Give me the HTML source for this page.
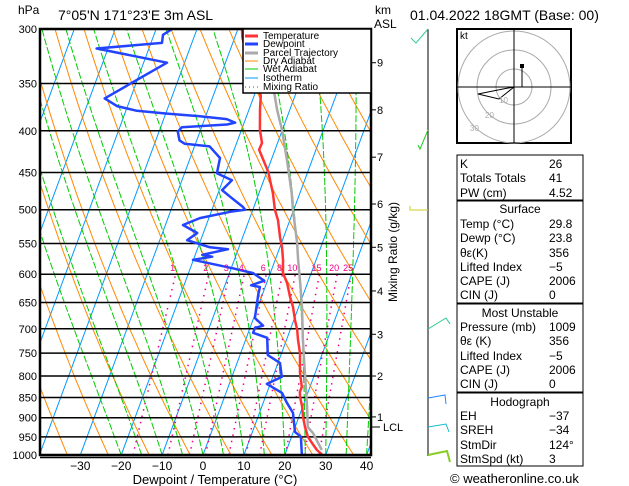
<!DOCTYPE html>
<html><head><meta charset="utf-8"><style>
html,body{margin:0;padding:0;background:#fff;}
svg{display:block;font-family:"Liberation Sans",sans-serif;}
</style></head><body>
<svg id="chart" width="629" height="486" viewBox="0 0 629 486" xmlns="http://www.w3.org/2000/svg">
<defs><clipPath id="plotclip"><rect x="40" y="29" width="331" height="426"/></clipPath></defs>
<rect width="629" height="486" fill="#fff"/>
<text x="18" y="14" font-size="12">hPa</text>
<text x="58" y="20" font-size="14">7°05'N  171°23'E  3m  ASL</text>
<text x="375" y="14" font-size="12">km</text>
<text x="374" y="28" font-size="12">ASL</text>
<text x="410" y="20" font-size="14">01.04.2022  18GMT  (Base: 00)</text>
<g id="bg" clip-path="url(#plotclip)"></g>
<g id="iso"></g>
<g id="series" clip-path="url(#plotclip)"></g>
<g id="axes"></g>
<g id="legend">
<rect x="243" y="29" width="128" height="64" fill="#fff" stroke="#000" stroke-width="1.5"/>
<line x1="245" y1="36" x2="258" y2="36" stroke="#f33" stroke-width="3"/>
<text x="263" y="39" font-size="10">Temperature</text>
<line x1="245" y1="44" x2="258" y2="44" stroke="#2244ff" stroke-width="3"/>
<text x="263" y="47" font-size="10">Dewpoint</text>
<line x1="245" y1="53" x2="258" y2="53" stroke="#aaa" stroke-width="3"/>
<text x="263" y="56" font-size="10">Parcel Trajectory</text>
<line x1="245" y1="61" x2="258" y2="61" stroke="#f80" stroke-width="1"/>
<text x="263" y="64" font-size="10">Dry Adiabat</text>
<line x1="245" y1="69" x2="258" y2="69" stroke="#0c0" stroke-width="1"/>
<text x="263" y="72" font-size="10">Wet Adiabat</text>
<line x1="245" y1="78" x2="258" y2="78" stroke="#09f" stroke-width="1"/>
<text x="263" y="81" font-size="10">Isotherm</text>
<line x1="245" y1="87" x2="258" y2="87" stroke="#e08" stroke-width="1" stroke-dasharray="1,3"/>
<text x="263" y="90" font-size="10">Mixing Ratio</text>
</g>
<g id="winds">
<line x1="428" y1="29" x2="428" y2="456" stroke="#000" stroke-width="1"/>
<polyline points="428,29 416,43 411,38" fill="none" stroke="#3c9"/>
<polyline points="428,130 420,149 418,145" fill="none" stroke="#2c2"/>
<polyline points="428,210 410,210 410,206" fill="none" stroke="#cc2"/>
<polyline points="428,329 446,318 450,324" fill="none" stroke="#2c8"/>
<polyline points="428,398 445,395 446,404" fill="none" stroke="#28f"/>
<polyline points="428,427 446,424 449,432" fill="none" stroke="#1bc"/>
<polyline points="428,455 447,451 450,462" fill="none" stroke="#8c2" stroke-width="2"/>
</g>
<g id="hodo">
<rect x="457" y="29" width="114" height="114" fill="#fff" stroke="#000" stroke-width="2"/>
<g fill="none" stroke="#aaa" stroke-width="1">
<circle cx="514" cy="87" r="18"/><circle cx="514" cy="87" r="37"/><circle cx="514" cy="87" r="56"/>
</g>
<line x1="457" y1="87" x2="571" y2="87" stroke="#000"/><line x1="514" y1="29" x2="514" y2="143" stroke="#000"/>
<text x="460" y="39" font-size="10">kt</text>
<polyline points="514,87 503,89 478,94 499,99 514,87" fill="none" stroke="#000"/>
<polyline points="514,87 522,87 522,66" fill="none" stroke="#000"/>
<rect x="520" y="64" width="4" height="4" fill="#000"/>
<text x="499" y="103" font-size="8" fill="#aaa">10</text>
<text x="485" y="118" font-size="8" fill="#aaa">20</text>
<text x="470" y="131" font-size="8" fill="#aaa">30</text>
</g>
<g id="table" font-size="12">
<rect x="457" y="155" width="126" height="45" fill="none" stroke="#000"/>
<rect x="457" y="201" width="126" height="102" fill="none" stroke="#000"/>
<rect x="457" y="304" width="126" height="88" fill="none" stroke="#000"/>
<rect x="457" y="393" width="126" height="73" fill="none" stroke="#000"/>
<g id="rows"></g>
</g>
<text x="450" y="483" font-size="13">© weatheronline.co.uk</text>
</svg>
<script>
// ---------- data ----------
const pressureTicks = [300,350,400,450,500,550,600,650,700,750,800,850,900,950,1000];
const xTicks = [-30,-20,-10,0,10,20,30,40];
const kmLabels = [1,2,3,4,5,6,7,8,9];
const kmPressures = [898,800,711,629,556,492,431,377,330];
const mixingRatios = [1,2,3,4,6,8,10,15,20,25];
const tempP = [1006,986,967,950,924,898,873,849,837,825,793,750,722,702,683,658,640,615,598,576,557,540,515,500,477,449,434,422,414,399,377,362,337,307,300];
const tempT = [30.0,27.4,25.6,24.0,22.4,21.0,19.9,18.5,18.0,18.0,16.3,14.5,12.8,11.7,10.3,8.6,7.0,5.0,3.1,1.9,0.6,-0.9,-2.9,-4.6,-6.6,-9.7,-12.0,-13.9,-13.8,-15.5,-17.3,-18.4,-23.3,-28.2,-29.0];
const parcelP = [986,940,924,873,793,722,658,615,576,549,500,477,434,399,377,362,352];
const parcelT = [28.6,24.9,23.1,21.1,17.5,14.0,10.8,8.2,5.6,3.8,-0.2,-2.0,-6.2,-10.1,-13.1,-15.0,-16.4];
const dewP = [1006,950,937,888,863,839,818,802,771,754,718,708,698,694,679,636,622,619,611,598,590,576,571,568,559,556,545,534,522,512,503,500,496,482,473,460,451,432,425,418,415,411,401,396,393,391,387,384,381,378,373,365,330,317,312,305,300];
const dewT = [24.4,22.3,20.4,18.2,15.8,13.7,9.2,12.2,10.5,6.8,5.1,1.2,1.2,3.0,0.3,-1.0,-1.3,-3.6,-0.8,-4.2,-9.6,-20.1,-15.7,-18.3,-12.5,-17.1,-23.3,-21.5,-25.7,-22.2,-15.4,-11.9,-12.7,-16.7,-19.3,-17.8,-22.1,-22.7,-24.5,-26.3,-32.6,-34.2,-35.4,-34.8,-24.0,-22.2,-24.6,-31.4,-39.7,-47.3,-52.6,-56.3,-44.3,-62.8,-47.3,-47.8,-46.1];

// ---------- axes functions ----------
const NS='http://www.w3.org/2000/svg';
const X0=203, PXD=4.09, SKEW=0.37, YB=455;
function Y(p){return 29+353.8*Math.log(p/300);}
function X(T,p){return X0+PXD*T+SKEW*(YB-Y(p));}
function mk(tag,attrs,parent){const e=document.createElementNS(NS,tag);for(const k in attrs)e.setAttribute(k,attrs[k]);parent.appendChild(e);return e;}
const bg=document.getElementById('bg'), iso=document.getElementById('iso'), series=document.getElementById('series'), axes=document.getElementById('axes');

for(let T=-120;T<=40;T+=10){
  const l=mk('line',{x1:X(T,1000),y1:Y(1000),x2:X(T,300),y2:Y(300),stroke:'#09f','stroke-width':1},bg);
  
  
}
for(let th=220;th<=460;th+=10){
  let pts=[];for(let p=1000;p>=300;p-=10){const T=th*Math.pow(p/1000,0.286)-273.15;pts.push(X(T,p).toFixed(1)+','+Y(p).toFixed(1));}
  const l=mk('polyline',{points:pts.join(' '),fill:'none',stroke:'#f80','stroke-width':1},bg);
  
  
}
function es(T){return 6.112*Math.exp(17.67*T/(T+243.5));}
for(let T0=-20;T0<=40;T0+=5){
  let T=T0+273.15,pts=[];
  for(let p=1000;p>=300;p-=5){
    pts.push(X(T-273.15,p).toFixed(1)+','+Y(p).toFixed(1));
    const e=es(T-273.15), rs=0.622*e/(p-e), Lv=2.5e6, Rd=287, cp=1004;
    const dTdp=(Rd*T+Lv*rs)/(p*(cp+Lv*Lv*rs*0.622/(Rd*T*T)));
    T-=dTdp*5;
  }
  const l=mk('polyline',{points:pts.join(' '),fill:'none',stroke:'#0c0','stroke-width':1,'stroke-dasharray':'7,2'},bg);
  
  
}
function tdw(w,p){const e=w*p/(622+w);const a=Math.log(e/6.112);return 243.5*a/(17.67-a);}
mixingRatios.forEach(w=>{
  const l=mk('line',{x1:X(tdw(w,1000),1000),y1:Y(1000),x2:X(tdw(w,600),600),y2:Y(600),stroke:'#e08','stroke-width':1.5,'stroke-dasharray':'1.5,5'},bg);
  
  
  const t=mk('text',{x:X(tdw(w,600),600)-3,y:Y(600)-3,'font-size':9,fill:'#e08','text-anchor':'middle'},axes);
  t.textContent=w;
  
  
});
pressureTicks.forEach(p=>{
  const l=mk('line',{x1:40,y1:Y(p),x2:371,y2:Y(p),stroke:'#000','stroke-width':1.5},iso);
  
  
  const t=mk('text',{x:37,y:Y(p)+4,'font-size':11,'text-anchor':'end'},axes);
  t.textContent=p;
  
  
});
function drawLine(P,T,color,w,name){
  const pts=P.map((p,i)=>X(T[i],p).toFixed(1)+','+Y(p).toFixed(1)).join(' ');
  const l=mk('polyline',{points:pts,fill:'none',stroke:color,'stroke-width':w,'stroke-linejoin':'round'},series);
  
  
}
drawLine(parcelP,parcelT,'#aaa',2.5,'parcel-trajectory');
drawLine(tempP,tempT,'#f33',2.5,'temperature-line');
drawLine(dewP,dewT,'#2244ff',2.5,'dewpoint-line');
const fr=mk('rect',{x:40,y:29,width:331,height:426,fill:'none',stroke:'#000','stroke-width':2.5},axes);


mk('line',{x1:40,y1:457.5,x2:371,y2:457.5,stroke:'#000','stroke-width':1.5},axes);
xTicks.forEach(T=>{
  const t=mk('text',{x:X0+PXD*T,y:470,'font-size':12,'text-anchor':'middle'},axes);
  t.textContent=T<0?'\u2212'+(-T):T;
  
  
});
const xt=mk('text',{x:215,y:484,'font-size':13,'text-anchor':'middle'},axes);
xt.textContent='Dewpoint / Temperature (°C)';


kmLabels.forEach((k,i)=>{
  const y=Y(kmPressures[i]);
  mk('line',{x1:371,y1:y,x2:376,y2:y,stroke:'#000'},axes);
  const t=mk('text',{x:377,y:y+4,'font-size':11},axes);
  t.textContent=k;
  
  
});
mk('line',{x1:371,y1:427,x2:380,y2:427,stroke:'#000'},axes);
const lcl=mk('text',{x:383,y:431,'font-size':11},axes);
lcl.textContent='LCL';


const mr=mk('text',{x:397,y:252,'font-size':12,'text-anchor':'middle',transform:'rotate(-90 397 252)'},axes);
mr.textContent='Mixing Ratio (g/kg)';


const rowLabels=['K','Totals Totals','PW (cm)','Temp (°C)','Dewp (°C)','θε(K)','Lifted Index','CAPE (J)','CIN (J)','Pressure (mb)','θε (K)','Lifted Index','CAPE (J)','CIN (J)','EH','SREH','StmDir','StmSpd (kt)'];
const rowValues=['26','41','4.52','29.8','23.8','356','-5','2006','0','1009','356','-5','2006','0','-37','-34','124°','3'];
const rowY=[168,182,197,228,242,257,271,285,299,331,345,360,374,388,420,434,449,463];
const rows=document.getElementById('rows');
rowLabels.forEach((s,i)=>{
  const a=mk('text',{x:460,y:rowY[i]},rows);a.textContent=s;
  
  
  const b=mk('text',{x:549,y:rowY[i]},rows);b.textContent=rowValues[i].replace('-','\u2212');
  
  
});
[['Surface',213],['Most Unstable',317],['Hodograph',406]].forEach(h=>{
  const t=mk('text',{x:520,y:h[1],'text-anchor':'middle'},rows);t.textContent=h[0];
  
  
});
</script>
</body></html>
